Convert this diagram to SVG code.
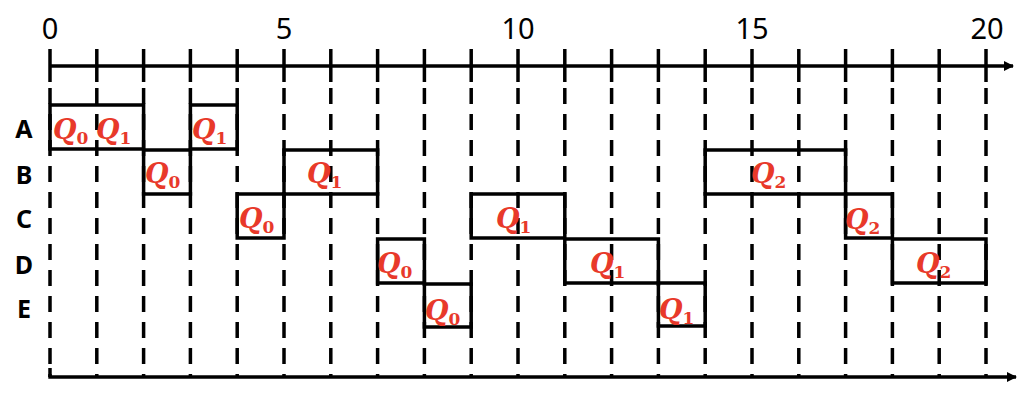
<svg xmlns="http://www.w3.org/2000/svg" width="1024" height="400" viewBox="0 0 1024 400">
<style>
.ax{stroke:#000;stroke-width:3.5;fill:none}
.tk{stroke:#000;stroke-width:3.5}
.ds{stroke:#000;stroke-width:3.5;stroke-dasharray:16 10}
.bx{fill:none;stroke:#000;stroke-width:3.5}
.num{font-family:"Noto Sans","Liberation Sans",sans-serif;font-size:29px;text-anchor:middle;fill:#000}
.row{font-family:"Noto Sans","Liberation Sans",sans-serif;font-size:25px;font-weight:bold;text-anchor:middle;fill:#000}
.q{font-family:"DejaVu Serif","Liberation Serif",serif;font-size:27px;font-weight:bold;font-style:italic;fill:#e8392a}
.s{font-size:17px;font-style:normal;font-weight:bold}
</style>
<defs>
<marker id="arr" markerWidth="10" markerHeight="10" refX="9" refY="5" orient="auto" markerUnits="userSpaceOnUse" viewBox="0 0 10 10">
<path d="M0,0 L10,5 L0,10 z" fill="#000"/>
</marker>
</defs>
<g id="axis-numbers">
<text class="num" x="50" y="39">0</text>
<text class="num" x="284" y="39">5</text>
<text class="num" x="518" y="39">10</text>
<text class="num" x="752" y="39">15</text>
<text class="num" x="987" y="39">20</text>
</g>
<g id="row-labels">
<text class="row" x="24" y="138">A</text>
<text class="row" x="24" y="184">B</text>
<text class="row" x="24" y="228">C</text>
<text class="row" x="24" y="274">D</text>
<text class="row" x="24" y="318">E</text>
</g>
<g id="connectors">
<g id="grid">
<line class="tk" x1="50" y1="49" x2="50" y2="82"/><line class="ds" x1="50" y1="88" x2="50" y2="377"/>
<line class="tk" x1="96.8" y1="49" x2="96.8" y2="82"/><line class="ds" x1="96.8" y1="88" x2="96.8" y2="377"/>
<line class="tk" x1="143.6" y1="49" x2="143.6" y2="82"/><line class="ds" x1="143.6" y1="88" x2="143.6" y2="377"/>
<line class="tk" x1="190.4" y1="49" x2="190.4" y2="82"/><line class="ds" x1="190.4" y1="88" x2="190.4" y2="377"/>
<line class="tk" x1="237.2" y1="49" x2="237.2" y2="82"/><line class="ds" x1="237.2" y1="88" x2="237.2" y2="377"/>
<line class="tk" x1="284" y1="49" x2="284" y2="82"/><line class="ds" x1="284" y1="88" x2="284" y2="377"/>
<line class="tk" x1="330.8" y1="49" x2="330.8" y2="82"/><line class="ds" x1="330.8" y1="88" x2="330.8" y2="377"/>
<line class="tk" x1="377.6" y1="49" x2="377.6" y2="82"/><line class="ds" x1="377.6" y1="88" x2="377.6" y2="377"/>
<line class="tk" x1="424.4" y1="49" x2="424.4" y2="82"/><line class="ds" x1="424.4" y1="88" x2="424.4" y2="377"/>
<line class="tk" x1="471.2" y1="49" x2="471.2" y2="82"/><line class="ds" x1="471.2" y1="88" x2="471.2" y2="377"/>
<line class="tk" x1="518" y1="49" x2="518" y2="82"/><line class="ds" x1="518" y1="88" x2="518" y2="377"/>
<line class="tk" x1="564.8" y1="49" x2="564.8" y2="82"/><line class="ds" x1="564.8" y1="88" x2="564.8" y2="377"/>
<line class="tk" x1="611.6" y1="49" x2="611.6" y2="82"/><line class="ds" x1="611.6" y1="88" x2="611.6" y2="377"/>
<line class="tk" x1="658.4" y1="49" x2="658.4" y2="82"/><line class="ds" x1="658.4" y1="88" x2="658.4" y2="377"/>
<line class="tk" x1="705.2" y1="49" x2="705.2" y2="82"/><line class="ds" x1="705.2" y1="88" x2="705.2" y2="377"/>
<line class="tk" x1="752" y1="49" x2="752" y2="82"/><line class="ds" x1="752" y1="88" x2="752" y2="377"/>
<line class="tk" x1="798.8" y1="49" x2="798.8" y2="82"/><line class="ds" x1="798.8" y1="88" x2="798.8" y2="377"/>
<line class="tk" x1="845.6" y1="49" x2="845.6" y2="82"/><line class="ds" x1="845.6" y1="88" x2="845.6" y2="377"/>
<line class="tk" x1="892.4" y1="49" x2="892.4" y2="82"/><line class="ds" x1="892.4" y1="88" x2="892.4" y2="377"/>
<line class="tk" x1="939.2" y1="49" x2="939.2" y2="82"/><line class="ds" x1="939.2" y1="88" x2="939.2" y2="377"/>
<line class="tk" x1="986" y1="49" x2="986" y2="82"/><line class="ds" x1="986" y1="88" x2="986" y2="377"/>
<line class="tk" x1="50" y1="368" x2="50" y2="377"/>
</g>
<line id="top-axis" class="ax" x1="50" y1="66" x2="1013" y2="66" marker-end="url(#arr)"/>
<line id="bottom-axis" class="ax" x1="48.3" y1="377" x2="1016" y2="377" marker-end="url(#arr)"/>
</g>
<g id="A">
<rect class="bx" x="50" y="105" width="93.6" height="44"/>
<text class="q" x="53" y="139">Q<tspan class="s" dy="5">0</tspan></text>
<text class="q" x="96" y="139">Q<tspan class="s" dy="5">1</tspan></text>
<rect class="bx" x="190.4" y="105" width="46.8" height="44"/>
<text class="q" x="192" y="139">Q<tspan class="s" dy="5">1</tspan></text>
</g>
<g id="B">
<rect class="bx" x="143.6" y="150" width="46.8" height="44"/>
<text class="q" x="145" y="183">Q<tspan class="s" dy="5">0</tspan></text>
<rect class="bx" x="284" y="150" width="93.6" height="44"/>
<text class="q" x="307" y="183">Q<tspan class="s" dy="5">1</tspan></text>
<rect class="bx" x="705.2" y="150" width="140.4" height="44"/>
<text class="q" x="751" y="183">Q<tspan class="s" dy="5">2</tspan></text>
</g>
<g id="C">
<rect class="bx" x="237.2" y="194" width="46.8" height="44"/>
<text class="q" x="239" y="228">Q<tspan class="s" dy="5">0</tspan></text>
<rect class="bx" x="471.2" y="194" width="93.6" height="44"/>
<text class="q" x="496" y="228">Q<tspan class="s" dy="5">1</tspan></text>
<rect class="bx" x="845.6" y="194" width="46.8" height="44"/>
<text class="q" x="845" y="229">Q<tspan class="s" dy="5">2</tspan></text>
</g>
<g id="D">
<rect class="bx" x="377.6" y="239" width="46.8" height="44"/>
<text class="q" x="377" y="273">Q<tspan class="s" dy="5">0</tspan></text>
<rect class="bx" x="564.8" y="239" width="93.6" height="44"/>
<text class="q" x="590" y="273">Q<tspan class="s" dy="5">1</tspan></text>
<rect class="bx" x="892.4" y="239" width="93.6" height="44"/>
<text class="q" x="916" y="273">Q<tspan class="s" dy="5">2</tspan></text>
</g>
<g id="E">
<rect class="bx" x="424.4" y="284" width="46.8" height="43"/>
<text class="q" x="425" y="320">Q<tspan class="s" dy="5">0</tspan></text>
<rect class="bx" x="658.4" y="283" width="46.8" height="43"/>
<text class="q" x="659" y="319">Q<tspan class="s" dy="5">1</tspan></text>
</g>
</svg>
